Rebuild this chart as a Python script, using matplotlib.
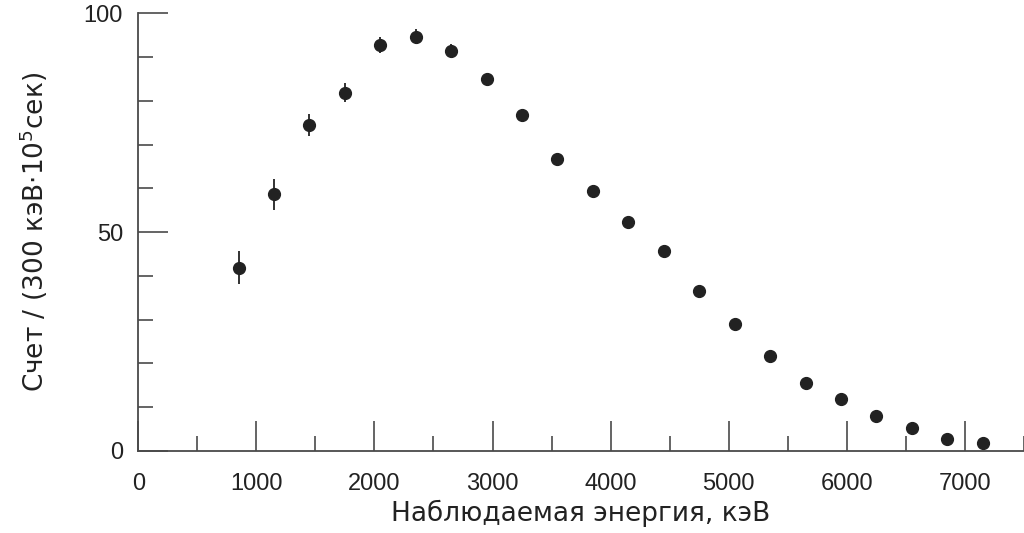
import matplotlib
matplotlib.use('Agg')
import matplotlib.pyplot as plt
from matplotlib.ticker import MultipleLocator

plt.rcParams['font.family'] = ['Liberation Sans', 'DejaVu Sans']
plt.rcParams['mathtext.fontset'] = 'custom'
plt.rcParams['mathtext.rm'] = 'DejaVu Sans'
plt.rcParams['mathtext.it'] = 'DejaVu Sans'

# ── data ─────────────────────────────────────────────────────────────────────
energy = [850, 1150, 1450, 1750, 2050, 2350, 2650, 2950, 3250, 3550, 3850,
          4150, 4450, 4750, 5050, 5350, 5650, 5950, 6250, 6550, 6850, 7150]
counts = [41.9, 58.6, 74.5, 81.9, 92.7, 94.7, 91.4, 84.9, 76.7, 66.8, 59.5,
          52.4, 45.8, 36.6, 29.1, 21.8, 15.5, 11.8, 8.0, 5.3, 2.7, 1.7]
errors = [3.7, 3.6, 2.6, 2.2, 1.8, 1.75, 1.5, 1.1, 0.9, 0.8, 0.7,
          0.6, 0.5, 0.4, 0.4, 0.3, 0.3, 0.3, 0.2, 0.2, 0.2, 0.1]

AX_C = '#4a4a4a'
PT_C = '#222222'
TXT_C = '#222222'

fig = plt.figure(figsize=(10.24, 5.33), dpi=100)
ax = fig.add_axes([0.135, 0.154, 0.865, 0.821])

ax.errorbar(energy, counts, yerr=errors, fmt='o', color=PT_C, ms=8.5,
            elinewidth=1.3, capsize=0, zorder=3)

ax.set_xlim(0, 7500)
ax.set_ylim(0, 100)
ax.xaxis.set_major_locator(MultipleLocator(1000))
ax.xaxis.set_minor_locator(MultipleLocator(500))
ax.yaxis.set_major_locator(MultipleLocator(50))
ax.yaxis.set_minor_locator(MultipleLocator(10))

for s in ('top', 'right'):
    ax.spines[s].set_visible(False)
for s in ('left', 'bottom'):
    ax.spines[s].set_color(AX_C)
    ax.spines[s].set_linewidth(1.3)

ax.tick_params(which='major', direction='in', length=21.5, width=1.2,
               color=AX_C, labelsize=17, labelcolor=TXT_C)
ax.tick_params(which='minor', direction='in', length=11, width=1.2,
               color=AX_C)
ax.tick_params(axis='x', which='major', pad=16)
ax.tick_params(axis='y', which='major', pad=11)

ax.set_xlabel('Наблюдаемая энергия, кэВ', fontsize=19, color=TXT_C,
              family='DejaVu Sans', labelpad=3)
ax.set_ylabel(r'Счет / (300 кэВ$\cdot$10$^{5}$сек)', fontsize=19,
              family='DejaVu Sans', color=TXT_C, labelpad=24)

fig.savefig('out.png', dpi=100)
